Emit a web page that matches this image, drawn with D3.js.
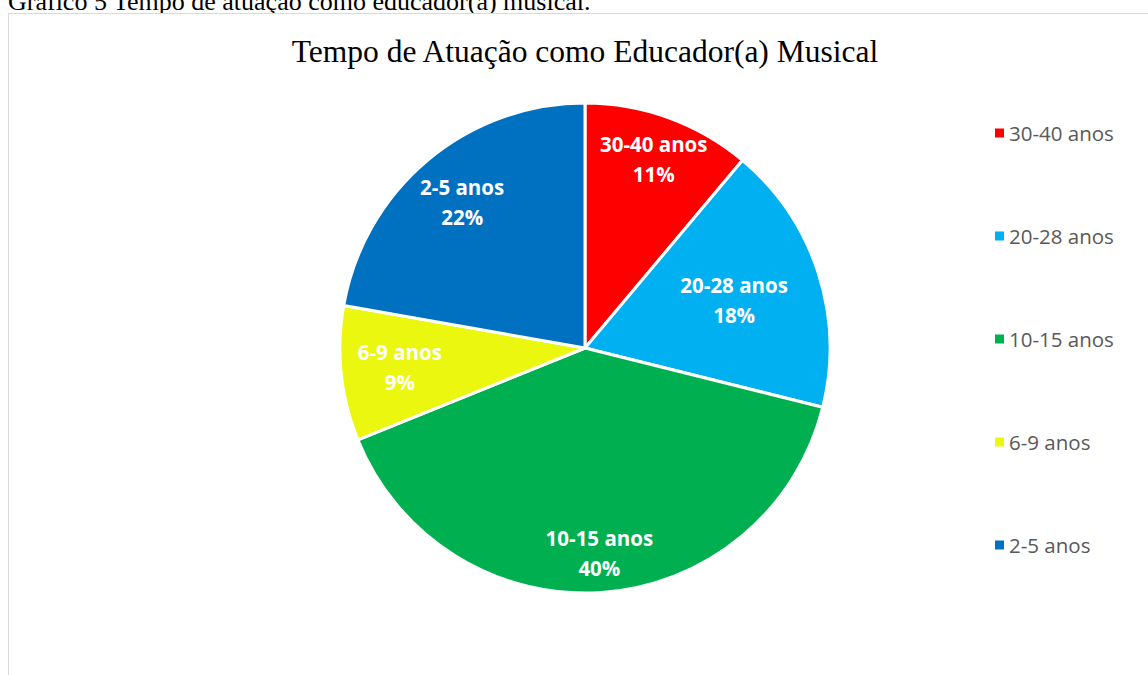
<!DOCTYPE html>
<html>
<head>
<meta charset="utf-8">
<script src="https://cdn.jsdelivr.net/npm/d3@7"></script>
<style>
  html, body { margin: 0; padding: 0; background: #fff; }
  svg { display: block; }
</style>
</head>
<body>
<div id="chart"></div>
<script>
// ---- data ----
const categories = ['30-40 anos', '20-28 anos', '10-15 anos', '6-9 anos', '2-5 anos']
const counts = [5, 8, 18, 4, 10]
const colors = ['#FF0000', '#00B0F0', '#00B050', '#EBF70F', '#0070C0']

// label distance from centre, as share of radius (Excel "best fit")
const labelRadius = [0.82, 0.64, 0.84, 0.76, 0.78]

const width = 1148
const height = 675
const cx = 585
const cy = 348
const radius = 245

const svg = d3.select('#chart')
  .append('svg')
  .attr('width', width)
  .attr('height', height)

// ---- caption above the chart frame (cut at the top, as in the page scan) ----
svg.append('text')
  .attr('x', 8)
  .attr('y', 10)
  .attr('font-family', '"Liberation Serif","Times New Roman",serif')
  .attr('font-size', '26px')
  .attr('fill', '#000')
  .text('Gráfico 5 Tempo de atuação como educador(a) musical.')

// chart frame
svg.append('rect')
  .attr('x', 8.5)
  .attr('y', 13.5)
  .attr('width', width + 20)
  .attr('height', height + 20)
  .attr('fill', '#fff')
  .attr('stroke', '#D9D9D9')
  .attr('stroke-width', 1)

// ---- title ----
svg.append('text')
  .attr('x', cx)
  .attr('y', 62)
  .attr('text-anchor', 'middle')
  .attr('font-family', '"Liberation Serif","Times New Roman",serif')
  .attr('font-size', '31.5px')
  .attr('fill', '#000')
  .text('Tempo de Atuação como Educador(a) Musical')

// ---- pie ----
const items = categories.map((c, i) => ({ cat: c, value: counts[i], color: colors[i], lr: labelRadius[i] }))
const total = d3.sum(counts)

const pie = d3.pie().sort(null).value(d => d.value)
const arc = d3.arc().innerRadius(0).outerRadius(radius)

const g = svg.append('g').attr('transform', `translate(${cx},${cy})`)

const arcs = pie(items)

g.selectAll('path')
  .data(arcs)
  .join('path')
  .attr('d', arc)
  .attr('fill', d => d.data.color)
  .attr('stroke', '#fff')
  .attr('stroke-width', 3)
  .attr('stroke-linejoin', 'round')

const labels = g.selectAll('g.lbl')
  .data(arcs)
  .join('g')
  .attr('class', 'lbl')
  .attr('transform', d => {
    const r = radius * d.data.lr
    const a = (d.startAngle + d.endAngle) / 2
    return `translate(${r * Math.sin(a)},${-r * Math.cos(a)})`
  })

labels.append('text')
  .attr('y', -15)
  .attr('text-anchor', 'middle')
  .attr('dominant-baseline', 'central')
  .attr('font-family', '"Open Sans",sans-serif')
  .attr('font-weight', 'bold')
  .attr('font-size', '20.5px')
  .attr('fill', '#fff')
  .text(d => d.data.cat)

labels.append('text')
  .attr('y', 15)
  .attr('text-anchor', 'middle')
  .attr('dominant-baseline', 'central')
  .attr('font-family', '"Open Sans",sans-serif')
  .attr('font-weight', 'bold')
  .attr('font-size', '20.5px')
  .attr('fill', '#fff')
  .text(d => Math.round(d.data.value / total * 100) + '%')

// ---- legend ----
const legendY = d3.scalePoint()
  .domain(categories)
  .range([133, 545])

const legend = svg.append('g')
  .selectAll('g')
  .data(items)
  .join('g')
  .attr('transform', d => `translate(995,${legendY(d.cat)})`)

legend.append('rect')
  .attr('x', 0)
  .attr('y', -4.5)
  .attr('width', 9)
  .attr('height', 9)
  .attr('fill', d => d.color)

legend.append('text')
  .attr('x', 14)
  .attr('y', 0)
  .attr('dominant-baseline', 'central')
  .attr('font-family', '"Open Sans",sans-serif')
  .attr('font-size', '20.5px')
  .attr('fill', '#595959')
  .text(d => d.cat)
</script>
</body>
</html>
